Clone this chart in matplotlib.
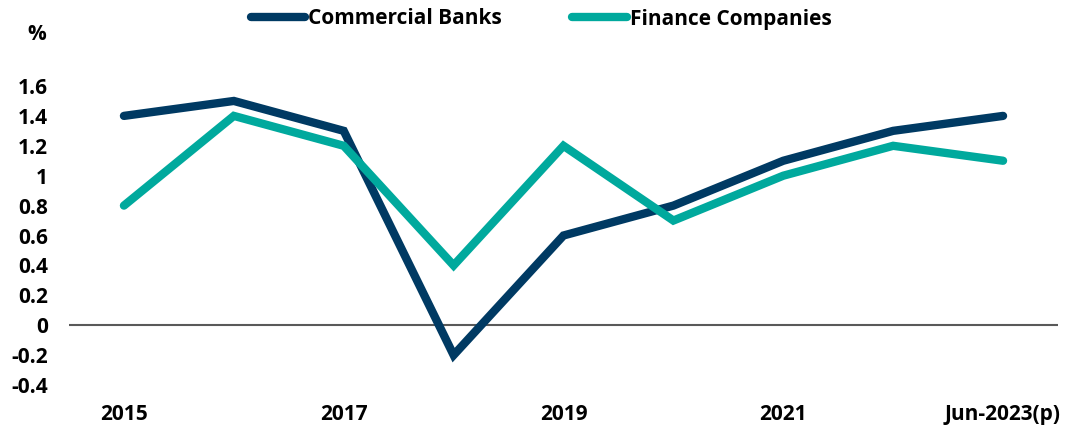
import matplotlib
matplotlib.use("Agg")
import matplotlib.pyplot as plt
from matplotlib.lines import Line2D

categories = ["2015", "2016", "2017", "2018", "2019", "2020", "2021", "2022", "Jun-2023(p)"]
commercial_banks = [1.4, 1.5, 1.3, -0.2, 0.6, 0.8, 1.1, 1.3, 1.4]
finance_companies = [0.8, 1.4, 1.2, 0.4, 1.2, 0.7, 1.0, 1.2, 1.1]
yticks = [-0.4, -0.2, 0, 0.2, 0.4, 0.6, 0.8, 1, 1.2, 1.4, 1.6]
ytick_labels = ["-0.4", "-0.2", "0", "0.2", "0.4", "0.6", "0.8", "1", "1.2", "1.4", "1.6"]
shown_x = [0, 2, 4, 6, 8]

navy = "#003A63"
teal = "#00A99D"

plt.rcParams['font.family'] = ['Open Sans', 'DejaVu Sans']
plt.rcParams['font.weight'] = 'bold'
FS = 15

W, H = 1067, 426
fig = plt.figure(figsize=(W/100, H/100), dpi=100)
ax = fig.add_axes([69/W, 1 - 385/H, (1058-69)/W, (385-86)/H])

x = list(range(len(categories)))
ax.plot(x, commercial_banks, color=navy, lw=6, solid_capstyle='round', solid_joinstyle='miter', zorder=3)
ax.plot(x, finance_companies, color=teal, lw=6, solid_capstyle='round', solid_joinstyle='miter', zorder=3)
ax.axhline(0, color="#595959", lw=1.5, zorder=1)

ax.set_xlim(-0.5, len(categories) - 0.5)
ax.set_ylim(-0.4, 1.6)
ax.set_yticks(yticks)
ax.set_yticklabels(ytick_labels, fontsize=FS, fontweight='bold')
ax.set_xticks([x[i] for i in shown_x])
ax.set_xticklabels([categories[i] for i in shown_x], fontsize=FS, fontweight='bold')
ax.tick_params(axis='both', length=0)
ax.tick_params(axis='y', pad=15)
ax.tick_params(axis='x', pad=14)
for s in ax.spines.values():
    s.set_visible(False)

fig.text(37/W, 1 - 35/H, "%", fontsize=FS, fontweight='bold', ha='center', va='center')

handles = [Line2D([], [], color=navy, lw=6, solid_capstyle='round'),
           Line2D([], [], color=teal, lw=6, solid_capstyle='round')]
fig.legend(handles, ["Commercial Banks", "Finance Companies"], loc='center',
           bbox_to_anchor=(541/W, 1 - 19/H), ncol=2, frameon=False,
           prop={'size': FS, 'weight': 'bold'}, handlelength=2.6, handletextpad=0.15,
           columnspacing=3.4)

fig.savefig("out.png", dpi=100)
